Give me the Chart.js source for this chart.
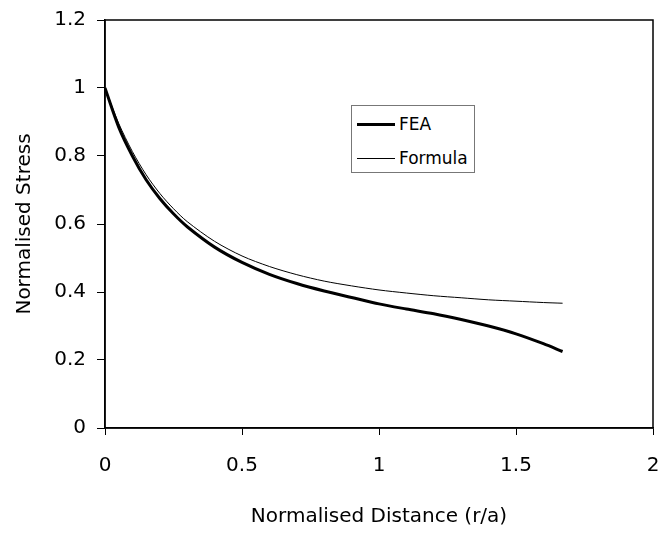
<!DOCTYPE html>
<html>
<head>
<meta charset="utf-8">
<script src="https://cdn.jsdelivr.net/npm/chart.js@4/dist/chart.umd.min.js"></script>
<style>
  html, body { margin: 0; padding: 0; background: #fff; }
  #wrap { position: relative; width: 659px; height: 534px; }
  #legend {
    position: absolute; left: 351px; top: 105px; width: 124px; height: 68px;
    border: 1px solid #777; box-sizing: border-box; background: #fff;
    font-family: "DejaVu Sans", sans-serif; font-size: 17px; color: #000;
  }
  #legend .item { position: absolute; left: 5px; height: 20px; display: flex; align-items: center; }
  #legend .swatch { width: 38px; margin-right: 4px; background: #000; }
</style>
</head>
<body>
<div id="wrap">
  <canvas id="chart" width="659" height="534"></canvas>
  <div id="legend"></div>
</div>
<script>
// values
const distance = [0, 0.05, 0.1, 0.15, 0.2, 0.25, 0.3, 0.4, 0.5, 0.6, 0.7, 0.8, 0.9, 1.0, 1.1, 1.2, 1.3, 1.4, 1.5, 1.6, 1.67];
const feaStress = [1.0, 0.885, 0.800, 0.730, 0.675, 0.630, 0.592, 0.532, 0.487, 0.452, 0.425, 0.403, 0.384, 0.365, 0.350, 0.336, 0.319, 0.300, 0.277, 0.248, 0.225];
const formulaStress = [1.0, 0.896, 0.813, 0.745, 0.690, 0.645, 0.607, 0.549, 0.506, 0.475, 0.451, 0.432, 0.418, 0.406, 0.397, 0.389, 0.383, 0.377, 0.373, 0.369, 0.367];

const xTicks = [0, 0.5, 1, 1.5, 2];
const yTicks = [0, 0.2, 0.4, 0.6, 0.8, 1, 1.2];

const seriesNames = ["FEA", "Formula"];
const seriesWidths = [3, 1];

function pts(ys) {
  return distance.map((x, i) => ({ x: x, y: ys[i] }));
}

// draws the box round the plot area (top and right edges)
const frame = {
  id: "frame",
  afterDraw(chart) {
    const a = chart.chartArea, c = chart.ctx;
    c.save();
    c.strokeStyle = "#000";
    c.lineWidth = 1.5;
    c.strokeRect(a.left, a.top, a.right - a.left, a.bottom - a.top);
    c.restore();
  }
};

const font = { family: "DejaVu Sans", size: 20 };

const chart = new Chart(document.getElementById("chart"), {
  type: "line",
  data: {
    datasets: [
      { label: seriesNames[0], data: pts(feaStress), borderColor: "#000", borderWidth: seriesWidths[0], pointRadius: 0, tension: 0.3, fill: false },
      { label: seriesNames[1], data: pts(formulaStress), borderColor: "#000", borderWidth: seriesWidths[1], pointRadius: 0, tension: 0.3, fill: false }
    ]
  },
  options: {
    responsive: false,
    animation: false,
    layout: { padding: { left: 0, right: 6, top: 20, bottom: 0 } },
    plugins: { legend: { display: false }, tooltip: { enabled: false } },
    scales: {
      x: {
        type: "linear", min: 0, max: 2,
        afterBuildTicks: s => { s.ticks = xTicks.map(v => ({ value: v })); },
        afterFit: s => { s.height = 106; s.paddingLeft = 0; s.paddingRight = 0; },
        ticks: { font: font, color: "#000", padding: 19, callback: v => String(v) },
        grid: { drawOnChartArea: false, drawTicks: true, tickLength: 7, tickColor: "#000", tickWidth: 1 },
        border: { display: true, color: "#000", width: 1.5 },
        title: { display: true, text: "Normalised Distance (r/a)", font: font, color: "#000", padding: { top: 0, bottom: 5 } }
      },
      y: {
        type: "linear", min: 0, max: 1.2,
        afterBuildTicks: s => { s.ticks = yTicks.map(v => ({ value: v })); },
        afterFit: s => { s.width = 105; s.paddingTop = 0; s.paddingBottom = 0; },
        ticks: { font: font, color: "#000", padding: 11, callback: v => String(v) },
        grid: { drawOnChartArea: false, drawTicks: true, tickLength: 8, tickColor: "#000", tickWidth: 1 },
        border: { display: true, color: "#000", width: 1.5 },
        title: { display: true, text: "Normalised Stress", font: font, color: "#000", padding: { top: 13, bottom: 0 } }
      }
    }
  },
  plugins: [frame]
});

// legend box inside the plot, built from the dataset labels
const legend = document.getElementById("legend");
chart.data.datasets.forEach((ds, i) => {
  const item = document.createElement("div");
  item.className = "item";
  item.style.top = (8 + i * 34) + "px";
  const sw = document.createElement("span");
  sw.className = "swatch";
  sw.style.height = ds.borderWidth + "px";
  item.appendChild(sw);
  item.appendChild(document.createTextNode(ds.label));
  legend.appendChild(item);
});
</script>
</body>
</html>
